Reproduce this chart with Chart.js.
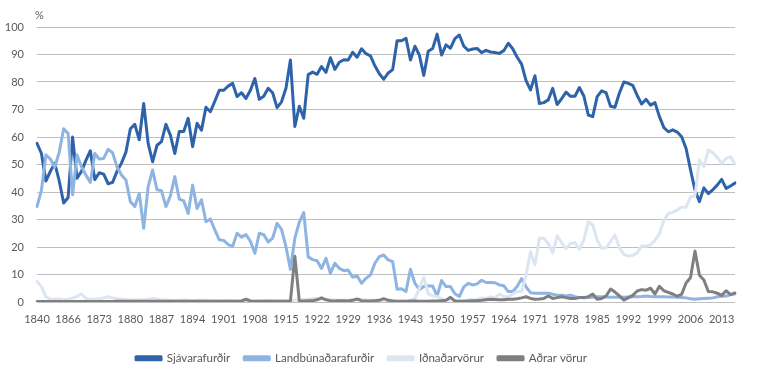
<!DOCTYPE html>
<html>
<head>
<meta charset="utf-8">
<script src="https://cdn.jsdelivr.net/npm/chart.js@4.4.0/dist/chart.umd.min.js"></script>
<style>
html,body{margin:0;padding:0;background:#ffffff;}
#wrap{width:757px;height:378px;}
</style>
</head>
<body>
<div id="wrap"><canvas id="c" width="757" height="378"></canvas></div>
<script>
// Categories (years)
const years = ['1840','1849','1853','1855','1858','1861','1863',
'1866','1867','1868','1869','1870','1871','1872','1873','1874','1875','1876','1877','1878','1879',
'1880','1881','1882','1883','1884','1885','1886','1887','1888','1889','1890','1891','1892','1893',
'1894','1895','1896','1897','1898','1899','1900','1901','1902','1903','1904','1905','1906','1907',
'1908','1909','1910','1911','1912','1913','1914','1915','1916','1917','1918','1919','1920','1921',
'1922','1923','1924','1925','1926','1927','1928','1929','1930','1931','1932','1933','1934','1935',
'1936','1937','1938','1939','1940','1941','1942','1943','1944','1945','1946','1947','1948','1949',
'1950','1951','1952','1953','1954','1955','1956','1957','1958','1959','1960','1961','1962','1963',
'1964','1965','1966','1967','1968','1969','1970','1971','1972','1973','1974','1975','1976','1977',
'1978','1979','1980','1981','1982','1983','1984','1985','1986','1987','1988','1989','1990','1991',
'1992','1993','1994','1995','1996','1997','1998','1999','2000','2001','2002','2003','2004','2005',
'2006','2007','2008','2009','2010','2011','2012','2013','2014','2015','2016'];

// Series values (%)
const sjavarafurdir = [57.7,54,44,47.5,50.5,44,36,38,60,45,47.5,51.5,55,44.5,47,46.5,43,43.5,47.5,50.5,
54.5,63,64.6,59,72.2,57.7,51,57,58.3,64.6,60.7,54,62,62,66.8,56.5,65,62.5,70.8,69.2,
73,77,77,78.5,79.5,74.7,76.1,74,77,81.3,73.7,74.8,77.7,76.1,70.7,72.8,77.7,88,63.8,71.2,
66.8,82.7,83.6,82.8,85.6,83.5,88.8,84.6,87.2,88.1,88,90.8,89,92.1,90.3,89.5,85.9,83,81,83.3,
84.5,95,95,95.9,88,93,89.8,82.4,91.2,92.2,97.4,89.8,93.5,92.3,95.8,97.1,93,91.5,92,92.2,
90.7,91.5,90.9,90.7,90.4,91.4,94.1,92.1,89,86.5,80.5,77.1,82.3,72.2,72.5,73.5,77.7,71.8,73.9,76.3,
74.8,74.8,78,74.9,68,67.4,74.7,76.8,76.1,71.2,70.8,76,80,79.5,78.8,75.1,72,73.7,71.6,72.5,
67.4,63.4,61.9,62.6,61.8,60.1,55.8,48,40.7,36.5,41.5,39.4,40.8,42.5,44.6,41.3,42.2,43.3];

const landbunadarafurdir = [34.7,40.7,53.5,52,49,54.5,63,61.3,39,53.5,49.2,46.2,43.5,54,52,52.2,55.5,54.3,49.2,46.2,
44.4,36.5,34.7,39.5,26.8,41.9,48,40.8,40.5,34.7,38.6,45.6,37.4,36.8,32.2,42.5,34,37.2,29.2,30.2,
26.2,22.6,22.4,20.9,20.2,25,23.6,24.5,22.1,17.7,25,24.5,21.8,23.2,28.6,26.4,20.1,11.8,23.2,29,
32.5,16.4,15.4,15,12.2,15.9,10.4,14.1,12.2,11.4,11.6,9,9.5,6.8,8.6,9.8,14.1,16.5,17.1,15.3,
14.7,4.6,4.8,3.8,11.9,6.8,4.6,5.6,5.8,5.8,2.2,7.8,5.6,5.6,3,2,5.5,6.8,6.2,6.6,
7.9,7.1,7.1,7,6.2,5.9,3.8,3.8,5.6,8.5,5.5,3.4,3.2,3.2,3.2,3.2,2.8,2.5,2.5,2.2,
2.5,1.9,1.6,1.5,1.6,1.7,1.9,1.9,1.8,1.7,1.7,1.8,1.7,1.8,1.9,1.9,2,2.2,2,1.9,
1.9,1.9,1.8,1.8,1.7,1.6,1.5,1.2,1,1.2,1.3,1.4,1.5,1.9,2.1,2.2,2.6,3];

const idnadarvorur = [7.5,5.6,1.9,1,1,1.2,0.8,1,1.5,2,2.9,1.3,1.1,1,1.2,1.5,1.9,1.5,1.2,1,
0.8,0.6,0.8,0.7,0.9,1,1.3,1,0.8,0.7,0.6,0.5,0.6,0.7,0.6,0.5,0.6,0.7,0.6,0.5,
0.5,0.4,0.5,0.6,0.5,0.4,0.5,0.5,0.4,0.4,0.5,0.5,0.6,0.6,0.5,0.5,0.6,0.5,0.6,0.8,
0.9,1,1.2,1.3,1.1,0.9,0.8,0.7,0.6,0.6,0.7,0.8,0.9,0.8,0.7,0.6,0.6,0.7,0.8,0.7,
0.6,0.4,0.3,0.3,0.5,1.2,5,9,3,2.2,2,1.2,0.6,0.8,0.5,0.5,0.5,0.8,0.8,1,
1.5,1.3,1.9,1.5,2.9,1.9,1.9,2.9,3.8,3.8,9.8,18.3,13.5,23.2,23.2,21.3,17.9,24,21.6,19.5,
21.3,21.6,19.2,22.5,29.2,28,22.5,19.5,19.7,22,24.4,19.8,17.3,16.7,16.9,17.9,20.4,20.3,20.7,22.4,
24.8,29.7,32.2,32.6,33.5,34.5,34.5,38.2,38.7,51.6,49.2,55.3,54.3,52.6,50.4,52.2,52.8,50.2];

const adrarVorur = [0.2,0.2,0.2,0.2,0.2,0.2,0.2,0.2,0.2,0.2,0.2,0.2,0.2,0.2,0.2,0.2,0.2,0.2,0.3,0.3,
0.3,0.3,0.3,0.3,0.3,0.3,0.3,0.3,0.3,0.3,0.3,0.3,0.3,0.3,0.3,0.3,0.3,0.3,0.3,0.3,
0.3,0.3,0.3,0.3,0.3,0.3,0.4,1,0.4,0.3,0.3,0.3,0.3,0.3,0.3,0.3,0.3,0.3,16.6,0.4,
0.4,0.5,0.5,0.8,1.5,0.8,0.5,0.4,0.5,0.5,0.4,0.6,1.1,0.5,0.4,0.4,0.5,0.6,1.2,0.6,
0.4,0.3,0.3,0.3,0.4,0.4,0.3,0.3,0.3,0.4,0.4,0.5,0.6,1.7,0.4,0.3,0.3,0.4,0.5,0.5,
0.6,0.8,1,0.9,0.8,0.8,1,1,1.2,1.5,1.9,1.3,1,1.1,1.3,2.2,1.3,1.6,1.9,1.6,
1.3,1.3,1.6,1.6,1.9,2.9,1,1.3,2.2,4.7,3.6,2.2,0.7,1.6,2.4,4,4.5,4.3,5,2.9,
5.7,4.1,3.5,2.9,2.1,2.8,6.9,8.9,18.5,9.7,8,3.8,3.7,3.2,2.4,4.1,2.7,3.3];

const seriesNames = ['Sjávarafurðir','Landbúnaðarafurðir','Iðnaðarvörur','Aðrar vörur'];
const yTickStep = 10;
const yMin = 0, yMax = 100;
const unitLabel = '%';

const colors = ['#2E63A9','#8DB4E2','#DCE6F2','#7F7F7F'];
const seriesData = [sjavarafurdir, landbunadarafurdir, idnadarvorur, adrarVorur];

Chart.defaults.font.family = 'Lato, "Open Sans", sans-serif';
Chart.defaults.font.size = 11;
Chart.defaults.color = '#595959';

const unitPlugin = {
  id: 'unitLabel',
  afterDraw(chart) {
    const ctx = chart.ctx;
    ctx.save();
    ctx.font = '11px Lato, "Open Sans", sans-serif';
    ctx.fillStyle = '#595959';
    ctx.textAlign = 'left';
    ctx.textBaseline = 'middle';
    ctx.fillText(unitLabel, chart.chartArea.left - 2, 15);
    ctx.restore();
  }
};

const legendShift = {
  id: 'legendShift',
  beforeDraw(chart) {
    if (chart.legend) {
      chart.legend.left = 0;
      chart.legend.right = 723;
    }
  }
};

new Chart(document.getElementById('c'), {
  type: 'line',
  data: {
    labels: years,
    datasets: seriesData.map((d, i) => ({
      label: seriesNames[i],
      data: d,
      borderColor: colors[i],
      backgroundColor: colors[i],
      borderWidth: 3,
      pointRadius: 0,
      pointHoverRadius: 0,
      tension: 0,
      fill: false,
      order: 4 - i,
      borderJoinStyle: 'round',
      borderCapStyle: 'round'
    }))
  },
  options: {
    responsive: false,
    animation: false,
    layout: { padding: { left: 0, right: 22, top: 27, bottom: 4 } },
    plugins: {
      legend: {
        position: 'bottom',
        labels: {
          boxWidth: 25,
          boxHeight: 3,
          padding: 14,
          color: '#595959',
          font: { size: 11.5 },
          sort: (a, b) => a.datasetIndex - b.datasetIndex
        }
      },
      tooltip: { enabled: false }
    },
    scales: {
      x: {
        type: 'category',
        offset: false,
        grid: { display: false, drawTicks: false },
        border: { display: false },
        ticks: {
          autoSkip: false,
          maxRotation: 0,
          minRotation: 0,
          padding: 11,
          color: '#595959',
          callback: function (v, i) { return i % 7 === 0 ? this.getLabelForValue(v) : ''; }
        },
        afterFit: (s) => { s.height = 36.5; }
      },
      y: {
        min: yMin,
        max: yMax,
        ticks: { stepSize: yTickStep, padding: 13, color: '#595959' },
        grid: { color: '#BFBFBF', drawTicks: false, lineWidth: 1 },
        border: { display: false },
        afterFit: (s) => { s.width = 37; }
      }
    }
  },
  plugins: [unitPlugin, legendShift]
});
</script>
</body>
</html>
